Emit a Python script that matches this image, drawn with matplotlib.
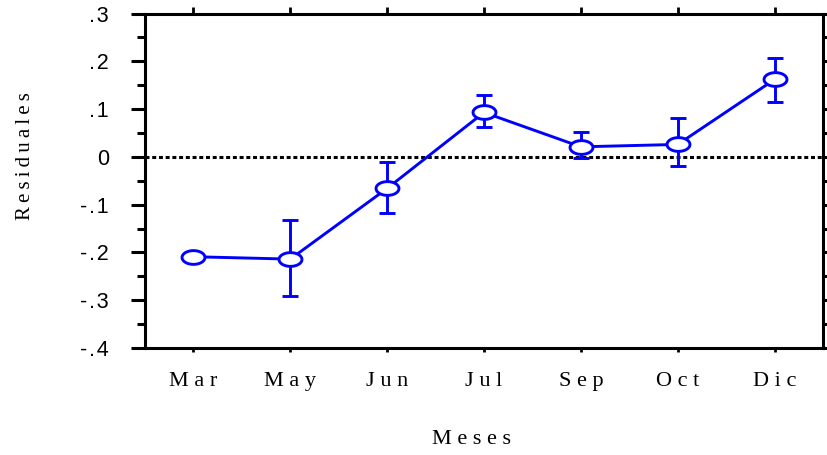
import numpy as np
import matplotlib
matplotlib.use("Agg")
import matplotlib.pyplot as plt
from matplotlib.path import Path
from matplotlib.ticker import MultipleLocator, FixedLocator

# residual means by month with lower/upper bounds of the error bars
meses = ["Mar", "May", "Jun", "Jul", "Sep", "Oct", "Dic"]
residuales = [-0.209, -0.214, -0.066, 0.093, 0.021, 0.026, 0.162]
lim_inf = [-0.209, -0.292, -0.118, 0.062, -0.002, -0.020, 0.115]
lim_sup = [-0.209, -0.133, -0.010, 0.130, 0.051, 0.081, 0.206]
yticks = [-0.4, -0.3, -0.2, -0.1, 0.0, 0.1, 0.2, 0.3]
ytick_labels = ["-.4", "-.3", "-.2", "-.1", "0", ".1", ".2", ".3"]

BLUE = "#0000FF"
SERIF = ["Liberation Serif", "DejaVu Serif"]
SANS = ["Liberation Sans", "DejaVu Sans"]
THIN = "\u2009"
HAIR = "\u200a"

def spaced(s, sep=" "):
    return sep.join(s)

# flattened ellipse marker
t = np.linspace(0, 2 * np.pi, 60)
elipse = Path(np.column_stack([np.cos(t), 0.6 * np.sin(t)]), closed=True)

fig = plt.figure(figsize=(8.27, 4.55), dpi=100)
ax = fig.add_axes([0.1753, 0.2352, 0.8199, 0.7351])

x = np.arange(len(meses))
y = np.array(residuales)
yerr = [y - np.array(lim_inf), np.array(lim_sup) - y]

ax.axhline(0, color="black", lw=2.2, ls=(0, (1.3, 0.9)), zorder=1)
ax.errorbar(x, y, yerr=yerr, color=BLUE, lw=2.1, elinewidth=2.1, capsize=6, capthick=2.1,
            marker=elipse, ms=16.5, mfc="white", mec=BLUE, mew=2.1, zorder=3)

ax.set_xlim(-0.5, 6.5)
ax.set_ylim(-0.4, 0.3)

for sp in ax.spines.values():
    sp.set_linewidth(2.2)

ax.set_xticks(x)
ax.set_xticklabels([spaced(m) for m in meses], fontfamily=SERIF, fontsize=16)
ax.yaxis.set_major_locator(FixedLocator(yticks))
ax.set_yticklabels([spaced(s, HAIR) for s in ytick_labels], fontfamily=SANS, fontsize=15.5)
ax.yaxis.set_minor_locator(MultipleLocator(0.05))

ax.tick_params(axis="x", which="both", direction="out", length=3, width=2, pad=14,
               top=True)
ax.tick_params(axis="y", which="major", direction="out", length=10, width=2.2, pad=16,
               right=True)
ax.tick_params(axis="y", which="minor", direction="out", length=6, width=2.2, right=True)

# top/right ticks drawn shorter than the left ones
for tk in ax.yaxis.get_major_ticks() + ax.yaxis.get_minor_ticks():
    tk.tick2line.set_markersize(3)
for tk in ax.xaxis.get_major_ticks():
    tk.tick2line.set_markersize(5)

ax.set_ylabel(spaced("Residuales", THIN), fontfamily=SERIF, fontsize=15)
ax.yaxis.set_label_coords(-0.162, 0.573)
ax.set_xlabel(spaced("Meses"), fontfamily=SERIF, fontsize=16)
ax.xaxis.set_label_coords(0.482, -0.245)

fig.savefig("out.png", dpi=100, facecolor="white")
